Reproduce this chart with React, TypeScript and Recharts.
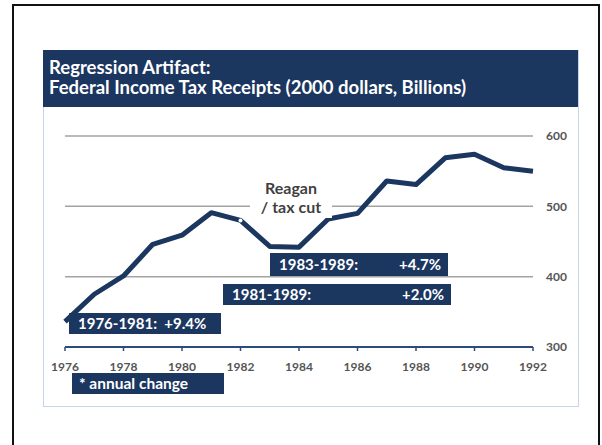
import React from "react";
import { LineChart, Line, XAxis, YAxis, CartesianGrid } from "recharts";

const YEARS = [1976, 1977, 1978, 1979, 1980, 1981, 1982, 1983, 1984, 1985, 1986, 1987, 1988, 1989, 1990, 1991, 1992];
const RECEIPTS = [336, 375, 401, 446, 459, 491, 480, 443, 442, 482, 490, 536, 531, 569, 574, 555, 550];
const X_TICKS = [1976, 1978, 1980, 1982, 1984, 1986, 1988, 1990, 1992];
const Y_TICKS = [300, 400, 500, 600];
const MARKED_YEAR = 1982;

const TITLE = ["Regression Artifact:", "Federal Income Tax Receipts (2000 dollars, Billions)"];
const PERIODS = [
  { label: "1983-1989:", change: "+4.7%", left: 270, top: 253, width: 178, height: 23 },
  { label: "1981-1989:", change: "+2.0%", left: 223, top: 284, width: 228, height: 21 },
  { label: "1976-1981:", change: "+9.4%", left: 69, top: 313, width: 152, height: 21, tight: true },
];

const NAVY = "#1b365f";
const FONT = "Lato, 'Open Sans', sans-serif";

const data = YEARS.map((year, i) => ({ year, value: RECEIPTS[i] }));

const renderDot = (props: any) => {
  const { cx, cy, payload, index } = props;
  if (payload.year !== MARKED_YEAR) return <g key={index} />;
  return <circle key={index} cx={cx} cy={cy} r={2} fill="#fff" stroke="none" />;
};

const tickStyle = { fill: "#555", fontSize: 12, fontWeight: 700, fontFamily: FONT };

export default function App() {
  return (
    <div style={{ position: "absolute", left: 0, top: 0, width: 602, height: 445, background: "#fff", overflow: "hidden", fontFamily: FONT }}>
      {/* outer frame, bottom edge runs off the picture */}
      <div style={{ position: "absolute", left: 12, top: 4, width: 584, height: 460, border: "2px solid #111" }} />

      {/* slide */}
      <div style={{ position: "absolute", left: 43, top: 50, width: 534, height: 355, border: "1px solid #c5d5ea" }} />
      <div
        style={{
          position: "absolute",
          left: 43,
          top: 50,
          width: 535,
          height: 57,
          background: NAVY,
          color: "#fff",
          fontWeight: 700,
          fontSize: 18.5,
          lineHeight: "20px",
          padding: "7px 0 0 6px",
          boxSizing: "border-box",
          whiteSpace: "nowrap",
        }}
      >
        {TITLE.map((t) => (
          <div key={t}>{t}</div>
        ))}
      </div>

      <div style={{ position: "absolute", left: 0, top: 0 }}>
        <LineChart width={602} height={445} data={data} margin={{ top: 136, right: 29, bottom: 68, left: 65 }}>
          <CartesianGrid vertical={false} stroke="#a3a3a3" strokeWidth={1.5} />
          <XAxis
            dataKey="year"
            type="number"
            domain={[1976, 1992]}
            ticks={X_TICKS}
            height={30}
            axisLine={{ stroke: "#2c4b7c", strokeWidth: 2 }}
            tickLine={{ stroke: "#2c4b7c", strokeWidth: 1.5 }}
            tickSize={4}
            tickMargin={11}
            tick={tickStyle}
          />
          <YAxis
            orientation="right"
            domain={[300, 600]}
            ticks={Y_TICKS}
            width={40}
            axisLine={false}
            tickLine={false}
            tickSize={5}
            tickMargin={8}
            tick={{ ...tickStyle, textAnchor: "start" }}
          />
          <Line
            dataKey="value"
            stroke={NAVY}
            strokeWidth={5}
            strokeLinejoin="round"
            dot={renderDot}
            activeDot={false}
            isAnimationActive={false}
          />
        </LineChart>
      </div>

      {/* event label */}
      <div
        style={{
          position: "absolute",
          left: 250,
          top: 178,
          width: 82,
          height: 40,
          background: "#fff",
          color: "#3f3f3f",
          fontWeight: 700,
          fontSize: 16,
          lineHeight: "19px",
          textAlign: "center",
          whiteSpace: "nowrap",
        }}
      >
        <div>Reagan</div>
        <div>/ tax cut</div>
      </div>

      {PERIODS.map((p) => (
        <div
          key={p.label}
          style={{
            position: "absolute",
            left: p.left,
            top: p.top,
            width: p.width,
            height: p.height,
            background: NAVY,
            color: "#fff",
            fontWeight: 700,
            fontSize: 15,
            lineHeight: `${p.height}px`,
            display: "flex",
            justifyContent: p.tight ? "flex-start" : "space-between",
            padding: "0 7px 0 9px",
            boxSizing: "border-box",
            whiteSpace: "pre",
          }}
        >
          <span>{p.label}</span>
          <span>{p.tight ? "  " + p.change : p.change}</span>
        </div>
      ))}

      <div
        style={{
          position: "absolute",
          left: 72,
          top: 373,
          width: 152,
          height: 21,
          background: NAVY,
          color: "#fff",
          fontWeight: 700,
          fontSize: 15.5,
          lineHeight: "21px",
          padding: "0 0 0 7px",
          boxSizing: "border-box",
        }}
      >
        * annual change
      </div>
    </div>
  );
}
